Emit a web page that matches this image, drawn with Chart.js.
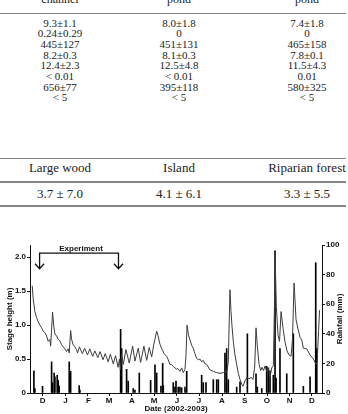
<!DOCTYPE html>
<html>
<head>
<meta charset="utf-8">
<script src="https://cdn.jsdelivr.net/npm/chart.js@4.4.0/dist/chart.umd.min.js"></script>
<style>
  html, body { margin: 0; padding: 0; background: #fff; }
  body { width: 348px; height: 414px; position: relative; overflow: hidden;
         font-family: "Liberation Serif", "Times New Roman", serif; color: #222; }
  .t { position: absolute; white-space: nowrap; transform: translateX(-50%); line-height: 1; }
  .rule { position: absolute; left: 0; width: 346px; background: #858585; }
  #wrap { position: absolute; left: 0; top: 236px; width: 348px; height: 178px; }
</style>
</head>
<body>
<div id="tables"></div>
<div id="wrap"><canvas id="hydro" width="348" height="178"></canvas></div>
<script>
// --- table text ---
const topHeaders = ['channel', 'pond', 'pond'];
const topRows = [
    ['9.3±1.1', '8.0±1.8', '7.4±1.8'],
    ['0.24±0.29', '0', '0'],
    ['445±127', '451±131', '465±158'],
    ['8.2±0.3', '8.1±0.3', '7.8±0.1'],
    ['12.4±2.3', '12.5±4.8', '11.5±4.3'],
    ['< 0.01', '< 0.01', '0.01'],
    ['656±77', '395±118', '580±325'],
    ['< 5', '< 5', '< 5']
];
const coverHeaders = ['Large wood', 'Island', 'Riparian forest'];
const coverValues = ['3.7 ± 7.0', '4.1 ± 6.1', '3.3 ± 5.5'];

// --- chart data (day 0 = 1 Dec 2002) ---
const monthStarts = [0, 31, 62, 90, 121, 151, 182, 212, 243, 274, 304, 335, 365];
const monthLabels = ['D', 'J', 'F', 'M', 'A', 'M', 'J', 'J', 'A', 'S', 'O', 'N', 'D'];
const stageTicks = [0, 0.5, 1, 1.5, 2];
const rainTicks = [0, 20, 40, 60, 80, 100];

const stageDays = [
    1, 2.3, 4.6, 6.9, 9.1, 11.4, 13.7, 15.9, 18.2, 20.5, 22.7, 25, 26, 28.6, 30.4, 31.8,
    34.1, 36.2, 38.5, 40.8, 43, 45.3, 47.6, 49.8, 51.2, 53.1, 54.4, 56.6, 58.9, 61.2,
    62.5, 65, 69, 72, 76, 79, 83, 86, 90, 93, 97, 100, 104, 107, 111, 114, 117.5, 119.3,
    120.6, 122.3, 124.5, 128.1, 132.6, 137.2, 140.3, 144.8, 148, 152.5, 156.2, 159.7, 163,
    166, 169.8, 171.5, 174.2, 176.3, 178.3, 179.7, 183.3, 185.1, 187.8, 189.8, 192.3, 194.6,
    196.9, 198.7, 201.4, 203.7, 205.9, 208.2, 209.5, 211, 213, 215, 217.3, 219.4, 221.7,
    224, 226.2, 228.5, 230.8, 233, 235.3, 237.6, 242, 246.6, 251.2, 255.7, 260.1, 262.4,
    264.7, 266.9, 269.2, 270.6, 272, 273.7, 276, 278.3, 280.5, 282.8, 285.1, 286.9, 289.6,
    292.4, 295.1, 297.7, 300.5, 302.8, 304.5, 306.3, 308.7, 310.9, 312.7, 314.7, 316.8,
    319, 321.2, 323.5, 325.8, 328, 329.4, 330.3, 332.1, 334.4, 336.4, 338.5, 341.2, 343.9,
    346.6, 349.3, 352, 354, 356.1, 358.8, 361.5, 364.2, 366.5, 368.7, 373.3, 377.8, 382.3,
    386, 387.4, 389.4, 390.7
];
const stageHeight = [
    1.58, 1.39, 1.20, 1.11, 1.05, 1.00, 0.96, 0.91, 0.89, 0.84, 0.76, 0.79, 0.69, 1.19, 0.97, 0.87,
    0.84, 0.79, 0.77, 0.71, 0.68, 0.65, 0.61, 0.65, 0.59, 0.92, 0.79, 0.71, 0.68, 0.63,
    0.59, 0.68, 0.58, 0.66, 0.56, 0.65, 0.54, 0.62, 0.52, 0.61, 0.49, 0.58, 0.46, 0.57, 0.43,
    0.55, 0.38, 0.50,
    0.34, 0.58, 0.42, 0.64, 0.44, 0.69, 0.47, 0.66, 0.45, 0.69, 0.48, 0.67, 0.53,
    0.72, 0.91, 0.85, 0.72, 0.66, 0.62, 0.58, 0.54, 0.50, 0.42, 0.42, 0.39, 0.37,
    0.35, 0.36, 0.32, 0.37, 0.30, 0.35, 0.55, 1.00, 0.85, 0.78, 0.70, 0.66, 0.58,
    0.51, 0.49, 0.50, 0.46, 0.48, 0.43, 0.42, 0.34, 0.32, 0.30, 0.29, 0.30, 0.32,
    0.30, 0.45, 1.52, 1.20, 0.98, 0.76, 0.56, 0.42, 0.29, 0.20, 0.13, 0.10, 0.18,
    0.23, 0.21, 0.23, 0.20, 0.40, 0.96, 0.69, 0.42, 0.33, 0.38, 0.33, 0.40,
    0.32, 0.36, 0.23, 0.37, 0.40, 1.20, 2.08, 1.27, 0.85, 0.76, 1.20, 0.95, 0.75,
    0.62, 0.56, 0.54, 0.80, 1.62, 1.08, 0.94, 0.82, 0.78, 0.66, 0.65, 0.56, 0.50,
    0.42, 0.45, 0.92, 1.22
];

const rainDays = [
    3.3, 4.6, 15, 27.3, 28.6, 30.8, 31.8, 34.9, 36.2, 37.6, 51.2, 53.1, 64.7, 65.7,
    120.9, 122.3, 129, 131.2, 138, 140.3, 146.2, 161.6, 167.5, 169.8, 175.6, 177.9, 178.7,
    192.3, 194.6, 196, 199, 201.4, 203.7, 208.2, 210.5, 230.8, 233, 236.7, 246.6, 251.2,
    253.4, 262.4, 264.7, 266.9, 278.3, 282.8, 292.8, 304.5, 306.3, 312.3, 319, 321.2,
    323.5, 328, 330.3, 331.7, 337, 346.2, 355.1, 368.7, 377.8, 385.5, 386.9
];
const rainfall = [
    15, 3, 4.5, 21, 7, 13.5, 11, 12, 8.5, 4.7, 21, 14.6, 5, 2,
    43, 30, 16, 8, 3, 2, 13.5, 8.5, 19, 13.5, 4.7, 20, 5,
    7, 4, 8, 4, 4, 3.5, 4, 14.7, 12, 7, 7, 9, 9,
    9, 27, 30, 9, 4, 7.5, 40, 13, 4, 3, 18, 17,
    15, 12, 96, 10, 30, 13, 40, 4.5, 11, 88, 30
];

const experimentStart = 11;
const experimentEnd = 118;

// --- tables ---
const cols = [60, 179, 307];
const tables = document.getElementById('tables');
function put(text, x, top, size) {
    const el = document.createElement('div');
    el.className = 't';
    el.textContent = text;
    el.style.left = x + 'px';
    el.style.top = top + 'px';
    el.style.fontSize = size + 'px';
    tables.appendChild(el);
}
function rule(top, h) {
    const el = document.createElement('div');
    el.className = 'rule';
    el.style.top = top + 'px';
    el.style.height = h + 'px';
    tables.appendChild(el);
}
topHeaders.forEach((h, i) => put(h, cols[i], -7.3, 12));
rule(13, 1);
topRows.forEach((row, r) => row.forEach((v, i) => put(v, cols[i], 17.5 + r * 10.7, 11)));
rule(158, 1);
coverHeaders.forEach((h, i) => put(h, cols[i], 160.6, 13));
rule(181, 1.5);
coverValues.forEach((v, i) => put(v, cols[i], 186.8, 13));
rule(205, 2);

// --- chart ---
const ink = '#111';
const axisFont = { family: '"Liberation Sans", Arial, sans-serif', size: 8, weight: 'bold' };

const extras = {
    id: 'extras',
    afterDraw(chart) {
        const { ctx, chartArea } = chart;
        const x = chart.scales.x, y = chart.scales.y, y2 = chart.scales.y2;
        const x0 = x.getPixelForValue(experimentStart);
        const x1 = x.getPixelForValue(experimentEnd);
        const yb = y.getPixelForValue(2.06);
        const yt = y.getPixelForValue(1.83);
        ctx.save();
        ctx.strokeStyle = ink;
        ctx.lineWidth = 1.3;
        ctx.beginPath();
        ctx.moveTo(x0, yt); ctx.lineTo(x0, yb); ctx.lineTo(x1, yb); ctx.lineTo(x1, yt);
        [x0, x1].forEach(px => {
            ctx.moveTo(px - 4.5, yt - 5); ctx.lineTo(px, yt); ctx.lineTo(px + 4.5, yt - 5);
        });
        ctx.stroke();
        ctx.fillStyle = ink;
        ctx.font = 'bold 8px "Liberation Sans", Arial, sans-serif';
        ctx.textAlign = 'center';
        ctx.textBaseline = 'middle';
        ctx.fillText('Experiment', (x0 + x1) / 2 + 2, y.getPixelForValue(2.13));
        // right axis title, reading upwards
        ctx.translate(y2.right - 8, (chartArea.top + chartArea.bottom) / 2);
        ctx.rotate(-Math.PI / 2);
        ctx.fillText('Rainfall (mm)', 0, 0);
        ctx.restore();
    }
};

new Chart(document.getElementById('hydro').getContext('2d'), {
    type: 'bar',
    data: {
        datasets: [
            {
                type: 'line',
                label: 'Stage height',
                yAxisID: 'y',
                data: stageDays.map((d, i) => ({ x: d, y: stageHeight[i] })),
                borderColor: '#3c3c3c',
                borderWidth: 1,
                pointRadius: 0,
                tension: 0,
                fill: false
            },
            {
                type: 'bar',
                label: 'Rainfall',
                yAxisID: 'y2',
                data: rainDays.map((d, i) => ({ x: d, y: rainfall[i] })),
                backgroundColor: '#000',
                borderWidth: 0,
                barThickness: 1
            }
        ]
    },
    options: {
        responsive: false,
        animation: false,
        devicePixelRatio: 1,
        layout: { padding: { top: 9, left: 0, right: 0, bottom: 0 } },
        plugins: { legend: { display: false }, tooltip: { enabled: false } },
        scales: {
            x: {
                type: 'linear',
                min: -2,
                max: 394,
                offset: false,
                afterBuildTicks: s => { s.ticks = monthStarts.map(v => ({ value: v })); },
                afterFit: s => { s.height = 21; },
                ticks: {
                    callback: (v, i) => monthLabels[i],
                    labelOffset: 11.2,
                    autoSkip: false,
                    maxRotation: 0,
                    padding: 0,
                    font: axisFont,
                    color: ink
                },
                grid: { drawOnChartArea: false, tickLength: 3, color: ink },
                border: { color: ink, width: 1 },
                title: { display: true, text: 'Date (2002-2003)', font: axisFont, color: ink, padding: { top: 0, bottom: 0 } }
            },
            y: {
                position: 'left',
                min: 0,
                max: 2.18,
                afterBuildTicks: s => { s.ticks = stageTicks.map(v => ({ value: v })); },
                afterFit: s => { s.width = 30; },
                ticks: {
                    callback: v => v === 0 ? '0' : v.toFixed(1),
                    padding: 1,
                    font: axisFont,
                    color: ink
                },
                grid: { drawOnChartArea: false, tickLength: 3, color: ink },
                border: { color: ink, width: 1 },
                title: { display: true, text: 'Stage height (m)', font: axisFont, color: ink, padding: { top: 5, bottom: 0 } }
            },
            y2: {
                position: 'right',
                min: 0,
                max: 100,
                afterBuildTicks: s => { s.ticks = rainTicks.map(v => ({ value: v })); },
                afterFit: s => { s.width = 26; },
                ticks: { padding: 1, font: axisFont, color: ink },
                grid: { drawOnChartArea: false, tickLength: 3, color: ink },
                border: { color: ink, width: 1 }
            }
        }
    },
    plugins: [extras]
});
</script>
</body>
</html>
